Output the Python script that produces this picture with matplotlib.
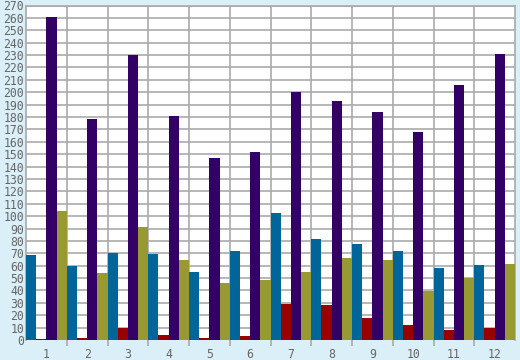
import numpy as np
import matplotlib
matplotlib.use("Agg")
import matplotlib.pyplot as plt

categories = ['1', '2', '3', '4', '5', '6', '7', '8', '9', '10', '11', '12']
blue = [68.5, 60, 70, 69.5, 55, 72, 102.5, 81.5, 77.5, 72, 58, 60.5]
red = [0.8, 1.8, 10, 4, 1.8, 3.5, 29, 28.3, 17.8, 12, 8, 9.7]
purple = [261, 178, 230, 181, 147, 151.5, 200, 193, 184, 168, 206, 231]
olive = [104, 54, 91, 64.5, 46, 48.5, 55, 66, 64.5, 39.5, 50, 61.5]

series = [blue, red, purple, olive]
colors = ['#006699', '#990000', '#330066', '#999933']

bg = '#daeff7'
fig = plt.figure(figsize=(5.2, 3.6), dpi=100, facecolor=bg)
ax = fig.add_axes([26 / 520, 20 / 360, 489 / 520, 334.5 / 360])
ax.set_facecolor('white')

x = np.arange(len(categories))
w = 0.25
for i, (vals, c) in enumerate(zip(series, colors)):
    ax.bar(x - 0.5 + w * i, vals, width=w, align='edge', color=c, zorder=3)

ax.set_xlim(-0.5, len(categories) - 0.5)
ax.set_ylim(0, 270)

grid_c = '#aaaaaa'
ax.set_yticks(np.arange(0, 271, 10))
ax.set_xticks(x)
ax.set_xticklabels(categories)
ax.set_xticks(np.arange(0.5, len(categories) - 0.5, 1), minor=True)
ax.tick_params(axis='x', which='major', length=0, pad=6)
ax.tick_params(axis='x', which='minor', length=4, color=grid_c, width=1.2)
ax.tick_params(axis='y', length=0, pad=1.5)
ax.tick_params(labelsize=8.3, labelcolor='#666666')
for lab in ax.get_xticklabels() + ax.get_yticklabels():
    lab.set_family('DejaVu Sans Mono')

ax.grid(True, axis='y', color=grid_c, linewidth=1.2, zorder=0)
ax.grid(True, axis='x', which='minor', color=grid_c, linewidth=1.2, zorder=0)
for s in ax.spines.values():
    s.set_color(grid_c)
    s.set_linewidth(1.2)
ax.spines['bottom'].set_visible(False)

fig.savefig('out.png', dpi=100, facecolor=bg)
